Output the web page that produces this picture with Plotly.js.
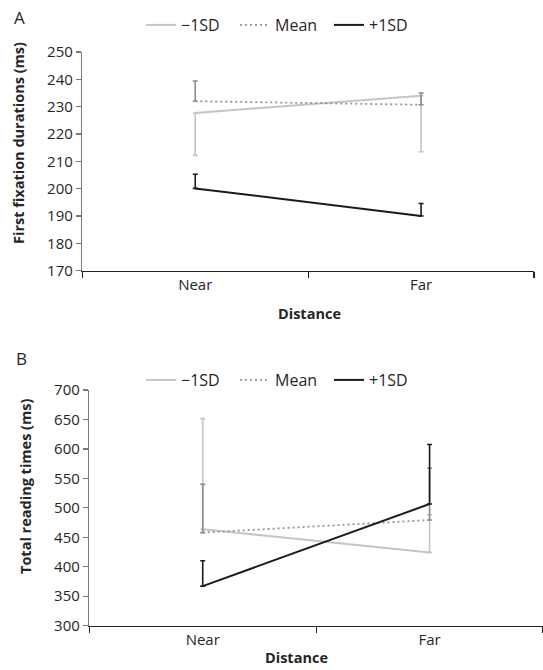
<!DOCTYPE html>
<html>
<head>
<meta charset="utf-8">
<script src="https://cdn.plot.ly/plotly-3.0.1.min.js"></script>
<style>html,body{margin:0;padding:0;background:#fff;}#chart{width:543px;height:670px;}</style>
</head>
<body>
<div id="chart"></div>
<script>
// Categories
const categories = ["Near", "Far"];
const seriesNames = ["\u22121SD", "Mean", "+1SD"];

// Panel A: First fixation durations (ms)
const ffdMinus1SD = [227.7, 234.0];
const ffdMinus1SDErrDown = [15.5, 20.5];
const ffdMean = [232.0, 230.7];
const ffdMeanErrUp = [7.4, 4.3];
const ffdPlus1SD = [200.1, 190.0];
const ffdPlus1SDErrUp = [5.2, 4.6];

// Panel B: Total reading times (ms)
const trtMinus1SD = [463.5, 424.4];
const trtMinus1SDErrUp = [188, 64];
const trtMean = [458.0, 479.3];
const trtMeanErrUp = [82, 88];
const trtPlus1SD = [367.2, 506.5];
const trtPlus1SDErrUp = [43, 101];

const FONT = "'Open Sans', Lato, sans-serif";
const TXT = "#262626";
const LIGHT = "#c4c4c4", MID = "#959595", MIDERR = "#8a8a8a", DARK = "#1a1a1a";

function tr(y, up, down, name, color, errColor, dash, width, xa, ya, leg) {
  return {
    x: categories, y: y, name: name, type: "scatter", mode: "lines",
    line: {color: color, width: width, dash: dash},
    error_y: {type: "data", symmetric: false, array: up, arrayminus: down,
              color: errColor, thickness: 1.6, width: 2.5, visible: true},
    xaxis: xa, yaxis: ya, legend: leg, hoverinfo: "skip"
  };
}
const zeros = [0, 0];
const DOT = "2px,3px";
const data = [
  tr(ffdMinus1SD, zeros, ffdMinus1SDErrDown, seriesNames[0], LIGHT, LIGHT, "solid", 2, "x", "y", "legend"),
  tr(ffdMean, ffdMeanErrUp, zeros, seriesNames[1], MID, MIDERR, DOT, 1.8, "x", "y", "legend"),
  tr(ffdPlus1SD, ffdPlus1SDErrUp, zeros, seriesNames[2], DARK, DARK, "solid", 2, "x", "y", "legend"),
  tr(trtMinus1SD, trtMinus1SDErrUp, zeros, seriesNames[0], LIGHT, LIGHT, "solid", 2, "x2", "y2", "legend2"),
  tr(trtMean, trtMeanErrUp, zeros, seriesNames[1], MID, MIDERR, DOT, 1.8, "x2", "y2", "legend2"),
  tr(trtPlus1SD, trtPlus1SDErrUp, zeros, seriesNames[2], DARK, DARK, "solid", 2, "x2", "y2", "legend2")
];

const W = 543, H = 670;
function px(x) { return x / W; }
function py(y) { return 1 - y / H; }

function xax(domain, anchor) {
  return {
    domain: domain, anchor: anchor, type: "category", range: [-0.5, 1.5],
    tickson: "boundaries", ticks: "outside", ticklen: 6, tickwidth: 1.2, tickcolor: "#222",
    showline: true, linecolor: "#222", linewidth: 1.5, showgrid: false, zeroline: false,
    tickfont: {family: FONT, size: 15, color: TXT}, fixedrange: true
  };
}
function yax(domain, anchor, range, dtick) {
  return {
    domain: domain, anchor: anchor, range: range, dtick: dtick,
    ticks: "outside", ticklen: 5, tickwidth: 1.2, tickcolor: "#777",
    showline: true, linecolor: "#7a7a7a", linewidth: 1.5, showgrid: false, zeroline: false,
    tickfont: {family: FONT, size: 15, color: TXT}, fixedrange: true
  };
}
function leg(yPix) {
  return {
    orientation: "h", x: px(141), y: py(yPix), xanchor: "left", yanchor: "middle",
    font: {family: FONT, size: 16, color: TXT}, bgcolor: "rgba(0,0,0,0)",
    entrywidth: 49, entrywidthmode: "pixels", tracegroupgap: 0
  };
}
function ann(text, x, y, size, angle) {
  return {text: text, x: px(x), y: py(y), xref: "paper", yref: "paper", showarrow: false,
          xanchor: "center", yanchor: "middle", textangle: angle || 0,
          font: {family: FONT, size: size, color: TXT}};
}

const layout = {
  width: W, height: H, margin: {l: 0, r: 0, t: 0, b: 0},
  paper_bgcolor: "#fff", plot_bgcolor: "#fff", showlegend: true,
  xaxis: xax([px(82.3), px(534)], "y"),
  yaxis: yax([py(270.7), py(52)], "x", [170, 250], 10),
  xaxis2: xax([px(89.3), 1], "y2"),
  yaxis2: yax([py(625.7), py(390)], "x2", [300, 700], 50),
  legend: leg(25),
  legend2: leg(380),
  annotations: [
    ann("A", 19, 18, 17),
    ann("B", 21, 358, 17),
    ann("<b>First fixation durations (ms)</b>", 18, 143, 14.5, -90),
    ann("<b>Total reading times (ms)</b>", 25, 487, 14.5, -90),
    ann("<b>Distance</b>", 309, 313, 14.5),
    ann("<b>Distance</b>", 296, 657, 14.5)
  ]
};

Plotly.newPlot("chart", data, layout, {displayModeBar: false, staticPlot: true});
</script>
</body>
</html>
